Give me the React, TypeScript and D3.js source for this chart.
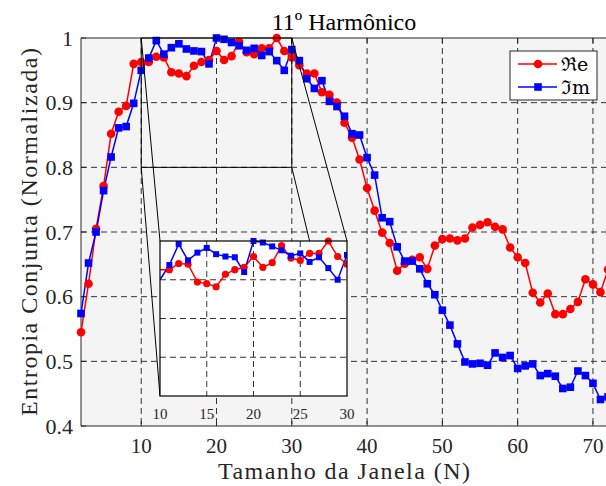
import React from "react";
import * as d3 from "d3";

const xs = d3.range(2, 73);
const reVals = [
  0.545, 0.62, 0.705, 0.771, 0.852, 0.886, 0.895, 0.96, 0.963, 0.963,
  0.971, 0.97, 0.947, 0.945, 0.941, 0.957, 0.963, 0.966, 0.98, 0.966,
  0.972, 0.994, 0.978, 0.975, 0.984, 0.984, 1.0, 0.98, 0.97, 0.958,
  0.945, 0.945, 0.916, 0.912, 0.9, 0.869, 0.846, 0.812, 0.768, 0.733,
  0.699, 0.683, 0.64, 0.651, 0.657, 0.661, 0.643, 0.679, 0.689, 0.69,
  0.687, 0.69, 0.707, 0.711, 0.715, 0.708, 0.704, 0.676, 0.661, 0.652,
  0.606, 0.591, 0.605, 0.573, 0.573, 0.581, 0.592, 0.627, 0.619, 0.607,
  0.642,
];
const imVals = [
  0.574, 0.652, 0.7, 0.764, 0.816, 0.861, 0.863, 0.899, 0.95, 0.969,
  0.996, 0.975, 0.985, 0.991, 0.983, 0.98, 0.979, 0.96, 1.0, 0.998,
  0.993, 0.988, 0.981, 0.984, 0.973, 0.979, 0.965, 0.95, 0.982, 0.965,
  0.937, 0.922, 0.934, 0.902, 0.894, 0.879, 0.852, 0.85, 0.815, 0.788,
  0.722, 0.716, 0.677, 0.655, 0.655, 0.643, 0.62, 0.603, 0.579, 0.556,
  0.527, 0.499, 0.496, 0.497, 0.494, 0.513, 0.506, 0.509, 0.489, 0.493,
  0.496, 0.478, 0.481, 0.477, 0.458, 0.46, 0.485, 0.478, 0.466, 0.441,
  0.445,
];
const xTicks = [10, 20, 30, 40, 50, 60, 70];
const yTicks = [0.4, 0.5, 0.6, 0.7, 0.8, 0.9, 1];
const insetXTicks = [10, 15, 20, 25, 30];
const insetYTicks = [0.85, 0.9, 0.95];
const title = "11º Harmônico";
const xLabel = "Tamanho da Janela (N)";
const yLabel = "Entropia Conjunta (Normalizada)";
const legendLabels = ["ℜe", "ℑm"];

const SERIF = "'Liberation Serif', 'Times New Roman', serif";
const RED = "#ff0000";
const BLUE = "#0000ff";
const GRID = "#333333";
const AX = "#262626";

type P = { x: number; v: number };

export default function App() {
  const W = 606, H = 486;
  const L = 81, R = 608, T = 38, B = 426;
  const x = d3.scaleLinear().domain([2, 72]).range([L, R]);
  const y = d3.scaleLinear().domain([0.4, 1]).range([B, T]);

  const iL = 160, iR = 347, iT = 241, iB = 396;
  const ix = d3.scaleLinear().domain([10, 30]).range([iL, iR]);
  const iy = d3.scaleLinear().domain([0.8, 1.0]).range([iB, iT]);

  const re: P[] = xs.map((xx, i) => ({ x: xx, v: reVals[i] }));
  const im: P[] = xs.map((xx, i) => ({ x: xx, v: imVals[i] }));

  const line = d3.line<P>().x((d) => x(d.x)).y((d) => y(d.v));
  const iline = d3.line<P>().x((d) => ix(d.x)).y((d) => iy(d.v));
  const reIn = re.filter((d) => d.x >= 10 && d.x <= 30);
  const imIn = im.filter((d) => d.x >= 10 && d.x <= 30);
  const reInM = reIn.filter((d) => d.x > 10);
  const imInM = imIn.filter((d) => d.x > 10);

  return (
    <svg
      width={W}
      height={H}
      style={{ position: "absolute", left: 0, top: 0, background: "#fff" }}
    >
      <defs>
        <clipPath id="main-clip">
          <rect x={L} y={T - 2} width={R - L} height={B - T + 2} />
        </clipPath>
        <clipPath id="inset-clip">
          <rect x={iL} y={iT - 4} width={iR - iL} height={iB - iT + 4} />
        </clipPath>
      </defs>
      <rect x={0} y={0} width={W} height={H} fill="#fff" />
      {/* main axes background */}
      <rect x={L} y={T} width={R - L} height={B - T} fill="#f4f4f4" />
      {/* grid */}
      {xTicks.map((t) => (
        <line key={"gx" + t} x1={x(t)} x2={x(t)} y1={T} y2={B} stroke={GRID} strokeWidth={1} strokeDasharray="6,4" />
      ))}
      {yTicks.slice(1, -1).map((t) => (
        <line key={"gy" + t} x1={L} x2={R} y1={y(t)} y2={y(t)} stroke={GRID} strokeWidth={1} strokeDasharray="6,4" />
      ))}
      {/* axes lines */}
      <line x1={L} x2={R} y1={T} y2={T} stroke={AX} strokeWidth={1} />
      <line x1={L} x2={R} y1={B} y2={B} stroke={AX} strokeWidth={1} />
      <line x1={L} x2={L} y1={T} y2={B} stroke={AX} strokeWidth={1} />
      {xTicks.map((t) => (
        <g key={"tx" + t}>
          <line x1={x(t)} x2={x(t)} y1={B} y2={B - 5} stroke={AX} />
          <line x1={x(t)} x2={x(t)} y1={T} y2={T + 5} stroke={AX} />
          <text x={x(t)} y={453} textAnchor="middle" fontFamily={SERIF} fontSize={21} fill={AX}>
            {t}
          </text>
        </g>
      ))}
      {yTicks.map((t) => (
        <g key={"ty" + t}>
          <line x1={L} x2={L + 5} y1={y(t)} y2={y(t)} stroke={AX} />
          <text x={73} y={y(t)} dy="0.35em" textAnchor="end" fontFamily={SERIF} fontSize={22} fill={AX}>
            {String(t)}
          </text>
        </g>
      ))}
      {/* data */}
      <g clipPath="url(#main-clip)">
        <path d={line(re) || ""} fill="none" stroke={RED} strokeWidth={1.5} />
        <path d={line(im) || ""} fill="none" stroke={BLUE} strokeWidth={1.5} />
      </g>
      {re.map((d) => (
        <circle key={"rc" + d.x} cx={x(d.x)} cy={y(d.v)} r={4.3} fill={RED} />
      ))}
      {im.map((d) => (
        <rect key={"bs" + d.x} x={x(d.x) - 3.8} y={y(d.v) - 3.8} width={7.6} height={7.6} fill={BLUE} />
      ))}
      {/* zoom rectangle and connectors */}
      <rect x={x(10)} y={y(1)} width={x(30) - x(10)} height={y(0.8) - y(1)} fill="none" stroke="#000" strokeWidth={1} />
      <line x1={x(10)} y1={y(1)} x2={iL} y2={iT} stroke="#000" strokeWidth={1} />
      <line x1={x(10)} y1={y(0.8)} x2={iL} y2={iB} stroke="#000" strokeWidth={1} />
      <line x1={x(30)} y1={y(1)} x2={iR} y2={iT} stroke="#000" strokeWidth={1} />
      <line x1={x(30)} y1={y(0.8)} x2={iR} y2={iB} stroke="#000" strokeWidth={1} />
      {/* inset */}
      <rect x={iL} y={iT} width={iR - iL} height={iB - iT} fill="#fff" />
      {insetXTicks.slice(1, -1).map((t) => (
        <line key={"igx" + t} x1={ix(t)} x2={ix(t)} y1={iT} y2={iB} stroke={GRID} strokeDasharray="6,4" />
      ))}
      {insetYTicks.map((t) => (
        <line key={"igy" + t} x1={iL} x2={iR} y1={iy(t)} y2={iy(t)} stroke={GRID} strokeDasharray="6,4" />
      ))}
      <g clipPath="url(#inset-clip)">
        <path d={iline(reIn) || ""} fill="none" stroke={RED} strokeWidth={1.5} />
        <path d={iline(imIn) || ""} fill="none" stroke={BLUE} strokeWidth={1.5} />
        {reInM.map((d) => (
          <circle key={"irc" + d.x} cx={ix(d.x)} cy={iy(d.v)} r={3.6} fill={RED} />
        ))}
        {imInM.map((d) => (
          <rect key={"ibs" + d.x} x={ix(d.x) - 3} y={iy(d.v) - 3} width={6} height={6} fill={BLUE} />
        ))}
      </g>
      <rect x={iL} y={iT} width={iR - iL} height={iB - iT} fill="none" stroke="#000" strokeWidth={1.2} />
      {insetXTicks.map((t) => (
        <text key={"itx" + t} x={ix(t)} y={419} textAnchor="middle" fontFamily={SERIF} fontSize={15} fill={AX}>
          {t}
        </text>
      ))}
      {/* legend */}
      <g>
        <rect x={510} y={51} width={87} height={49} fill="#fff" stroke={AX} strokeWidth={1} />
        <line x1={518} x2={557} y1={64} y2={64} stroke={RED} strokeWidth={1.5} />
        <circle cx={538} cy={64} r={4.3} fill={RED} />
        <line x1={518} x2={557} y1={87} y2={87} stroke={BLUE} strokeWidth={1.5} />
        <rect x={538 - 3.8} y={87 - 3.8} width={7.6} height={7.6} fill={BLUE} />
        <text x={561} y={64} dy="0.35em" fontFamily="'DejaVu Serif', serif" fontSize={19} fill="#000">
          {legendLabels[0]}
        </text>
        <text x={561} y={87} dy="0.35em" fontFamily="'DejaVu Serif', serif" fontSize={19} fill="#000">
          {legendLabels[1]}
        </text>
      </g>
      {/* labels */}
      <text x={344} y={30} textAnchor="middle" fontFamily={SERIF} fontSize={24} fill="#000">
        {title}
      </text>
      <text
        x={344}
        y={479}
        textAnchor="middle"
        fontFamily={SERIF}
        fontSize={24}
        fill={AX}
        textLength={252}
        lengthAdjust="spacing"
      >
        {xLabel}
      </text>
      <text
        transform={`translate(37, ${(T + B) / 2}) rotate(-90)`}
        textAnchor="middle"
        fontFamily={SERIF}
        fontSize={24}
        fill={AX}
        textLength={368}
        lengthAdjust="spacing"
      >
        {yLabel}
      </text>
    </svg>
  );
}
